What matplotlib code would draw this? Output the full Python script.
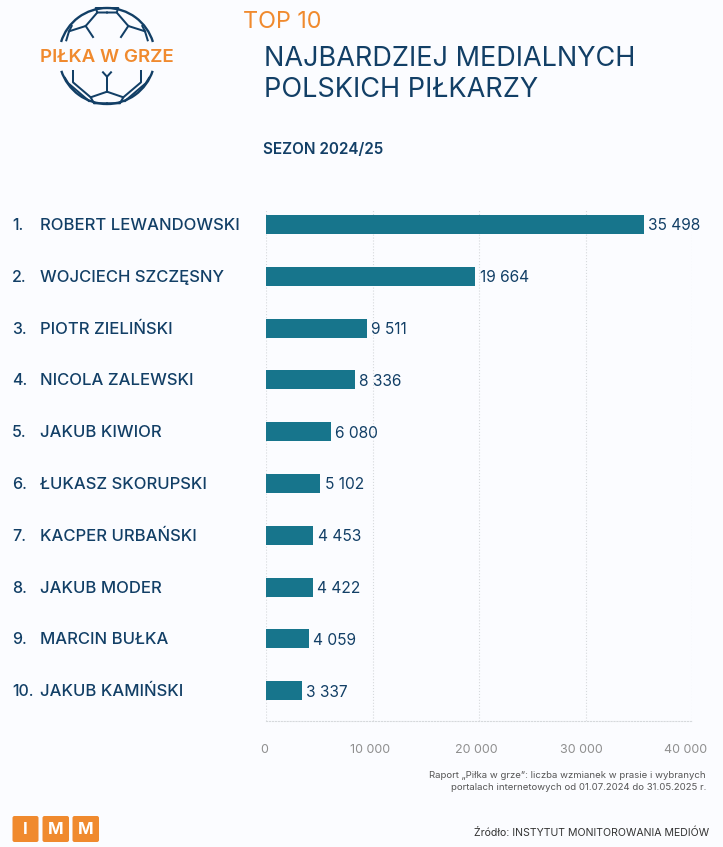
import matplotlib
matplotlib.use("Agg")
import matplotlib.pyplot as plt
from matplotlib.patches import Arc, FancyBboxPatch
from matplotlib.transforms import ScaledTranslation

# data
ranks = ["1.", "2.", "3.", "4.", "5.", "6.", "7.", "8.", "9.", "10."]
players = ["ROBERT LEWANDOWSKI", "WOJCIECH SZCZĘSNY", "PIOTR ZIELIŃSKI", "NICOLA ZALEWSKI", "JAKUB KIWIOR",
           "ŁUKASZ SKORUPSKI", "KACPER URBAŃSKI", "JAKUB MODER", "MARCIN BUŁKA", "JAKUB KAMIŃSKI"]
mentions = [35498, 19664, 9511, 8336, 6080, 5102, 4453, 4422, 4059, 3337]
x_ticks = [0, 10000, 20000, 30000, 40000]
x_tick_labels = ["0", "10 000", "20 000", "30 000", "40 000"]

navy = "#123f66"
teal = "#17758c"
orange = "#f08a2e"
background = "#fbfcff"
grey = "#8f8f8f"
width, height = 723, 847

plt.rcParams["font.family"] = ["Inter", "DejaVu Sans"]

fig = plt.figure(figsize=(width / 100, height / 100), dpi=100, facecolor=background)

# overlay in pixel coordinates for logo and header
overlay = fig.add_axes([0, 0, 1, 1], xlim=(0, width), ylim=(height, 0))
overlay.axis("off")

# bar chart
ax_top, ax_bottom, ax_left, ax_right = 210, 720.5, 266, 692
ax = fig.add_axes([ax_left / width, 1 - ax_bottom / height, (ax_right - ax_left) / width, (ax_bottom - ax_top) / height],
                  facecolor="none")
band = 51.8
first_center = 224.5
ax.set_xlim(0, 40000)
ax.set_ylim((ax_bottom - first_center) / band, (ax_top - first_center) / band)
positions = list(range(len(players)))
ax.barh(positions, mentions, height=0.367, color=teal, zorder=3)
ax.set_xticks(x_ticks)
ax.set_xticklabels(x_tick_labels, fontsize=9, color=grey)
ax.set_yticks([])
ax.tick_params(axis="x", length=0, pad=17)
ax.grid(axis="x", color="#d6d9dc", linestyle=":", linewidth=0.8, zorder=0)
for side in ["top", "right", "left"]:
    ax.spines[side].set_visible(False)
ax.spines["bottom"].set_color("#d6d9dc")
ax.spines["bottom"].set_linestyle(":")
ax.spines["bottom"].set_linewidth(0.8)

# tick labels sit a bit left of their gridlines in the original
for tick_label, shift in zip(ax.get_xticklabels(), [-1.5, -2, -2.5, -4, -6]):
    tick_label.set_transform(tick_label.get_transform() + ScaledTranslation(shift / 100, 0, fig.dpi_scale_trans))

for pos, rank, player, value in zip(positions, ranks, players, mentions):
    baseline = first_center + band * pos + 5.5
    overlay.text(12, baseline, rank, fontsize=11.5, color=navy, fontweight="medium")
    overlay.text(40.5, baseline, player, fontsize=12, color=navy, fontweight="medium")
    label = f"{value:,}".replace(",", " ")
    ax.annotate(label, (value, pos), xytext=(3, -4.3), textcoords="offset points", fontsize=11.2, color=navy)

# header
overlay.text(243, 27.5, "TOP 10", fontsize=16.8, color=orange)
overlay.text(264, 66.5, "NAJBARDZIEJ MEDIALNYCH", fontsize=19.5, color=navy)
overlay.text(264, 97, "POLSKICH PIŁKARZY", fontsize=19.5, color=navy)
overlay.text(263, 154, "SEZON 2024/25", fontsize=11, color=navy, fontweight="semibold")

# logo
cx, cy, r = 107, 56, 48
lw = 1.7
overlay.add_patch(Arc((cx, cy), 2 * r, 2 * r, theta1=197, theta2=343, color=navy, lw=lw))
overlay.add_patch(Arc((cx, cy), 2 * r, 2 * r, theta1=18, theta2=162, color=navy, lw=lw))
logo_right = [
    [(107, 8), (118.3, 8), (116.7, 12.5), (107, 12.5)],
    [(116.7, 12.5), (128.3, 26), (145, 31.3), (147.7, 40.3)],
    [(128.3, 26), (121, 37)],
    [(145, 31.3), (142.3, 26)],
    [(107, 91.7), (123.3, 97.3), (120, 103.3), (107, 103.3)],
    [(123.3, 97.3), (141, 82.3), (141, 71)],
    [(125, 101), (145.7, 83.3), (149, 78)],
]
for segment in logo_right:
    xs = [p[0] for p in segment]
    ys = [p[1] for p in segment]
    overlay.plot(xs, ys, color=navy, lw=lw * 0.85)
    overlay.plot([2 * cx - x for x in xs], ys, color=navy, lw=lw * 0.85)
overlay.plot([107, 107], [76.7, 91.7], color=navy, lw=lw * 0.85)
overlay.plot([103, 107, 111], [72.3, 76.7, 72.3], color=navy, lw=lw * 0.85)
overlay.text(107, 61.7, "PIŁKA W GRZE", fontsize=13.5, color=orange, ha="center", fontweight="semibold")

# footer
overlay.text(706, 775, "Raport „Piłka w grze”: liczba wzmianek w prasie i wybranych", fontsize=6.9, color="#555555", ha="right", va="center")
overlay.text(706, 787, "portalach internetowych od 01.07.2024 do 31.05.2025 r.", fontsize=6.9, color="#555555", ha="right", va="center")
overlay.text(709, 832.5, "Źródło: INSTYTUT MONITOROWANIA MEDIÓW", fontsize=7.6, color="#333333", ha="right", va="center")
for box_x, box_w, letter in zip([12.5, 42.5, 72.5], [26, 26.5, 26.5], "IMM"):
    overlay.add_patch(FancyBboxPatch((box_x, 816), box_w, 26, boxstyle="round,pad=0,rounding_size=2",
                                     facecolor=orange, edgecolor="none"))
    overlay.text(box_x + box_w / 2, 829, letter, fontsize=12, color="white", ha="center", va="center", fontweight="bold")

fig.savefig("out.png", dpi=100, facecolor=background)
